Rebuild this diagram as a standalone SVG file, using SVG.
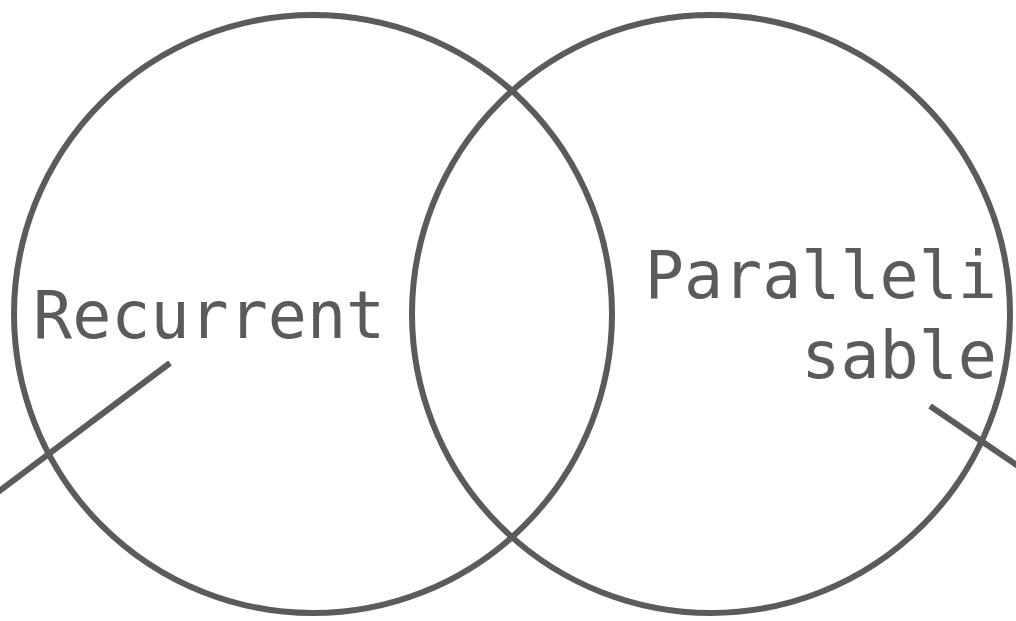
<svg xmlns="http://www.w3.org/2000/svg" width="1016" height="621" viewBox="0 0 1016 621">
  <style>
    .ring { fill: none; stroke: #5b5b5b; stroke-width: 6; }
    .link { stroke: #5b5b5b; stroke-width: 6; }
    .label { font-family: "DejaVu Sans Mono", "Liberation Mono", monospace; font-size: 65px; fill: #5b5b5b; }
  </style>
  <rect width="1016" height="621" fill="#ffffff"/>
  <g id="recurrent">
    <circle class="ring" cx="313" cy="314" r="299"/>
    <text class="label" x="33" y="338">Recurrent</text>
  </g>
  <g id="parallelisable">
    <circle class="ring" cx="711" cy="314" r="299"/>
    <text class="label" text-anchor="end" x="997" y="298">Paralleli</text>
    <text class="label" text-anchor="end" x="997" y="378">sable</text>
  </g>
  <g id="connectors">
    <line class="link" x1="170" y1="363" x2="-2" y2="492"/>
    <line class="link" x1="930" y1="406" x2="1018" y2="466"/>
  </g>
</svg>
